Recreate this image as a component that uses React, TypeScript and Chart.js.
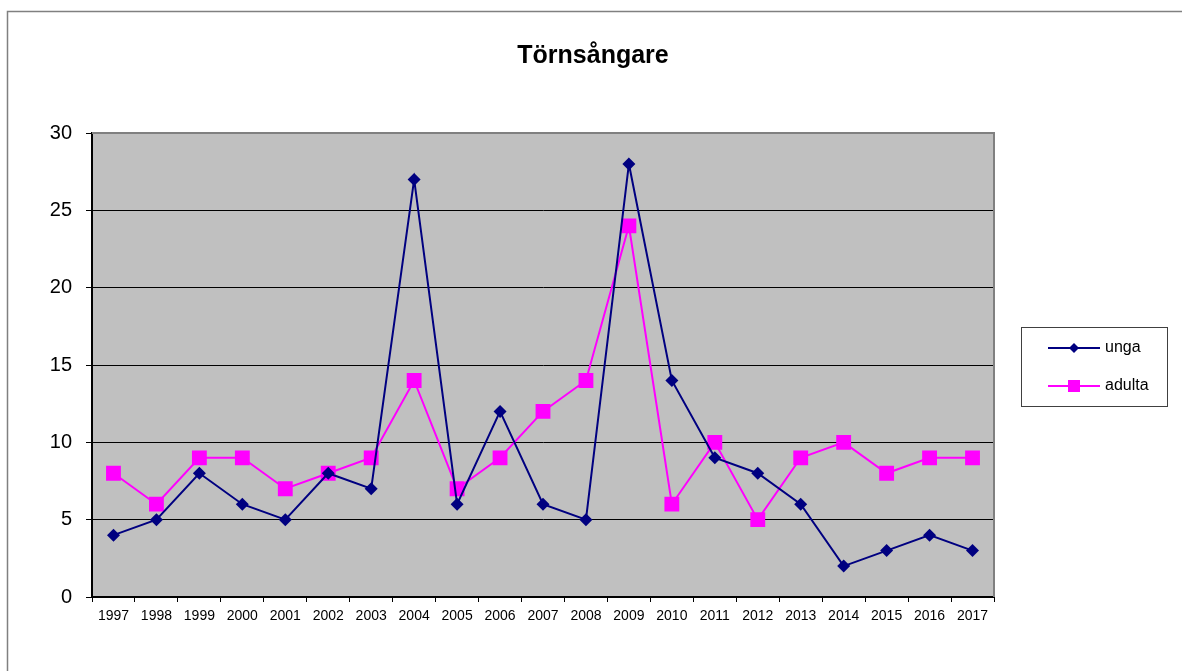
import React, { useEffect, useRef } from "react";
import { Chart, registerables } from "chart.js";

Chart.register(...registerables);

const years = ["1997","1998","1999","2000","2001","2002","2003","2004","2005","2006","2007","2008","2009","2010","2011","2012","2013","2014","2015","2016","2017"];
const unga = [4,5,8,6,5,8,7,27,6,12,6,5,28,14,9,8,6,2,3,4,3];
const adulta = [8,6,9,9,7,8,9,14,7,9,12,14,24,6,10,5,9,10,8,9,9];
const titleText = "Törnsångare";
const seriesNames = ["unga", "adulta"];

const FONT = "'Liberation Sans', Arial, sans-serif";

const decor = {
  id: "decor",
  beforeDraw(chart: any) {
    const { ctx, chartArea: a } = chart;
    ctx.save();
    ctx.fillStyle = "#fff";
    ctx.fillRect(0, 0, chart.width, chart.height);
    ctx.strokeStyle = "#808080";
    ctx.lineWidth = 1.5;
    ctx.strokeRect(7.5, 11.5, chart.width + 10, chart.height + 10);
    ctx.fillStyle = "#C0C0C0";
    ctx.fillRect(a.left, a.top, a.right - a.left, a.bottom - a.top);
    ctx.restore();
  },
  afterDatasetsDraw(chart: any) {
    const { ctx, chartArea: a } = chart;
    ctx.save();
    ctx.strokeStyle = "#808080";
    ctx.lineWidth = 2;
    ctx.beginPath();
    ctx.moveTo(a.left, a.top);
    ctx.lineTo(a.right, a.top);
    ctx.lineTo(a.right, a.bottom);
    ctx.stroke();
    // title
    ctx.fillStyle = "#000";
    ctx.font = `bold 25px ${FONT}`;
    ctx.textAlign = "center";
    ctx.textBaseline = "alphabetic";
    ctx.fillText(titleText, 593, 63);
    // legend
    ctx.strokeStyle = "#404040";
    ctx.lineWidth = 1;
    ctx.strokeRect(1021.5, 327.5, 146, 79);
    const items = [
      { name: seriesNames[0], color: "#000080", y: 348, shape: "diamond" },
      { name: seriesNames[1], color: "#FF00FF", y: 386, shape: "square" },
    ];
    items.forEach((it) => {
      ctx.strokeStyle = it.color;
      ctx.lineWidth = 2;
      ctx.beginPath();
      ctx.moveTo(1048, it.y);
      ctx.lineTo(1100, it.y);
      ctx.stroke();
      ctx.fillStyle = it.color;
      if (it.shape === "diamond") {
        ctx.beginPath();
        ctx.moveTo(1074, it.y - 5);
        ctx.lineTo(1079, it.y);
        ctx.lineTo(1074, it.y + 5);
        ctx.lineTo(1069, it.y);
        ctx.closePath();
        ctx.fill();
      } else {
        ctx.fillRect(1068, it.y - 6, 12, 12);
      }
      ctx.fillStyle = "#000";
      ctx.font = `16px ${FONT}`;
      ctx.textAlign = "left";
      ctx.textBaseline = "middle";
      ctx.fillText(it.name, 1105, it.y);
    });
    ctx.restore();
  },
};

export default function App() {
  const ref = useRef<HTMLCanvasElement>(null);
  useEffect(() => {
    if (!ref.current) return;
    const chart = new Chart(ref.current, {
      type: "line",
      data: {
        labels: years,
        datasets: [
          {
            label: seriesNames[0],
            data: unga,
            borderColor: "#000080",
            backgroundColor: "#000080",
            borderWidth: 2,
            pointStyle: "rectRot",
            pointRadius: 6.5,
            pointBorderWidth: 0,
            tension: 0,
          },
          {
            label: seriesNames[1],
            data: adulta,
            borderColor: "#FF00FF",
            backgroundColor: "#FF00FF",
            borderWidth: 2,
            pointStyle: "rect",
            pointRadius: 10.5,
            pointBorderWidth: 0,
            tension: 0,
          },
        ],
      },
      options: {
        responsive: false,
        animation: false,
        layout: { padding: { left: 0, top: 133, right: 188, bottom: 0 } },
        plugins: {
          legend: { display: false },
          title: { display: false },
          tooltip: { enabled: false },
        },
        scales: {
          x: {
            offset: true,
            grid: {
              offset: true,
              drawOnChartArea: false,
              drawTicks: true,
              tickLength: 5,
              color: "#000",
            },
            border: { color: "#000", width: 2 },
            ticks: {
              color: "#000",
              font: { family: FONT, size: 14 },
              padding: 6,
              maxRotation: 0,
              autoSkip: false,
            },
            afterFit: (s: any) => { s.height = 74; },
          },
          y: {
            min: 0,
            max: 30,
            ticks: {
              stepSize: 5,
              color: "#000",
              font: { family: FONT, size: 20 },
              padding: 14,
            },
            grid: { color: "#000", lineWidth: 1, tickLength: 6, drawTicks: true },
            border: { color: "#000", width: 2 },
            afterFit: (s: any) => { s.width = 92; },
          },
        },
      },
      plugins: [decor],
    });
    return () => chart.destroy();
  }, []);
  return (
    <div style={{ position: "fixed", left: 0, top: 0, width: 1182, height: 671, background: "#fff" }}>
      <canvas ref={ref} width={1182} height={671} style={{ display: "block" }} />
    </div>
  );
}
